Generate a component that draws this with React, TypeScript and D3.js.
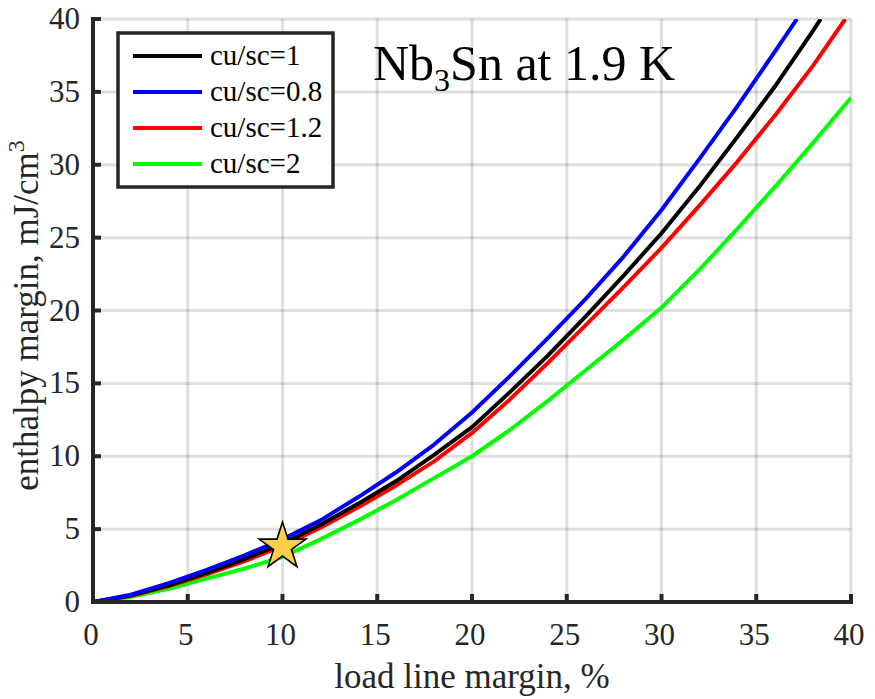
import React from "react";
import * as d3 from "d3";

// values
const xTicks = [0, 5, 10, 15, 20, 25, 30, 35, 40];
const yTicks = [0, 5, 10, 15, 20, 25, 30, 35, 40];

const xBlack = [0, 2, 4, 6, 8, 10, 12, 14, 16, 18, 20, 22, 24, 26, 28, 30, 32, 34, 36, 38, 38.4];
const yBlack = [0, 0.45, 1.15, 2.0, 2.95, 4.0, 5.3, 6.75, 8.3, 10.1, 12.0, 14.4, 16.9, 19.6, 22.4, 25.3, 28.5, 31.9, 35.4, 39.2, 40];

const xBlue = [0, 2, 4, 6, 8, 10, 12, 14, 16, 18, 20, 22, 24, 26, 28, 30, 32, 34, 36, 37.15];
const yBlue = [0, 0.5, 1.3, 2.2, 3.2, 4.3, 5.6, 7.2, 8.9, 10.8, 13.0, 15.5, 18.1, 20.8, 23.7, 26.9, 30.4, 34.0, 37.8, 40];

const xRed = [0, 2, 4, 6, 8, 10, 12, 14, 16, 18, 20, 22, 24, 26, 28, 30, 32, 34, 36, 38, 39.7];
const yRed = [0, 0.42, 1.1, 1.9, 2.8, 3.85, 5.1, 6.5, 8.0, 9.65, 11.6, 13.9, 16.4, 19.0, 21.6, 24.3, 27.2, 30.2, 33.4, 36.8, 40];

const xGreen = [0, 2, 4, 6, 8, 10, 12, 14, 16, 18, 20, 22, 24, 26, 28, 30, 32, 34, 36, 38, 40];
const yGreen = [0, 0.35, 0.9, 1.6, 2.3, 3.1, 4.3, 5.6, 7.0, 8.5, 10.0, 11.8, 13.8, 15.9, 18.0, 20.2, 22.8, 25.6, 28.5, 31.5, 34.6];

const seriesNames = ["cu/sc=1", "cu/sc=0.8", "cu/sc=1.2", "cu/sc=2"];
const seriesColors = ["#000000", "#0000ff", "#ff0000", "#00ff00"];

const starPoint = [10, 4];

export default function App() {
    const ref = React.useRef<SVGSVGElement>(null);

    React.useEffect(() => {
        document.body.style.margin = "0";
        const width = 875;
        const height = 699;
        const marginLeft = 93;
        const marginRight = 24;
        const marginTop = 19;
        const marginBottom = 97;
        const font = "'Liberation Serif', 'Times New Roman', serif";
        const axisColor = "#262626";

        const x = d3.scaleLinear().domain([0, 40]).range([marginLeft, width - marginRight]);
        const y = d3.scaleLinear().domain([0, 40]).range([height - marginBottom, marginTop]);

        const svg = d3
            .select(ref.current)
            .attr("width", width)
            .attr("height", height)
            .attr("viewBox", [0, 0, width, height])
            .style("display", "block")
            .style("background", "#fff");

        svg.append("defs")
            .append("clipPath")
            .attr("id", "plotClip")
            .append("rect")
            .attr("x", x(0))
            .attr("y", y(40))
            .attr("width", x(40) - x(0))
            .attr("height", y(0) - y(40));

        // grid
        const grid = svg.append("g").attr("stroke", axisColor).attr("stroke-opacity", 0.15).attr("stroke-width", 3);
        grid.selectAll("line.gx")
            .data(xTicks.slice(1))
            .join("line")
            .attr("x1", (d) => x(d))
            .attr("x2", (d) => x(d))
            .attr("y1", y(0))
            .attr("y2", y(40));
        grid.selectAll("line.gy")
            .data(yTicks.slice(1))
            .join("line")
            .attr("class", "gy")
            .attr("x1", x(0))
            .attr("x2", x(40))
            .attr("y1", (d) => y(d))
            .attr("y2", (d) => y(d));

        // curves
        const series = [
            { xs: xBlack, ys: yBlack },
            { xs: xBlue, ys: yBlue },
            { xs: xRed, ys: yRed },
            { xs: xGreen, ys: yGreen },
        ];
        const line = d3
            .line<[number, number]>()
            .x((d) => x(d[0]))
            .y((d) => y(d[1]));
        const curves = svg.append("g").attr("clip-path", "url(#plotClip)");
        // green first, blue last, like the overlap in the figure
        [3, 2, 0, 1].forEach((i) => {
            const pts = series[i].xs.map((v, j) => [v, series[i].ys[j]] as [number, number]);
            curves.append("path")
                .attr("d", line(pts))
                .attr("fill", "none")
                .attr("stroke", seriesColors[i])
                .attr("stroke-width", 4)
                .attr("stroke-linejoin", "round");
        });

        // star marker
        svg.append("path")
            .attr("d", d3.symbol().type(d3.symbolStar).size(680)())
            .attr("transform", `translate(${x(starPoint[0])},${y(starPoint[1]) + 3})`)
            .attr("fill", "#fdd04b")
            .attr("stroke", "#000")
            .attr("stroke-width", 1.6);

        // axes
        const axes = svg.append("g").attr("stroke", axisColor).attr("stroke-width", 4);
        axes.append("line")
            .attr("x1", x(0))
            .attr("x2", x(0))
            .attr("y1", y(40) - 2)
            .attr("y2", y(0) + 2);
        axes.append("line")
            .attr("x1", x(0) - 2)
            .attr("x2", x(40) + 2)
            .attr("y1", y(0))
            .attr("y2", y(0));
        axes.selectAll("line.tx")
            .data(xTicks)
            .join("line")
            .attr("class", "tx")
            .attr("x1", (d) => x(d))
            .attr("x2", (d) => x(d))
            .attr("y1", y(0))
            .attr("y2", y(0) - 8);
        axes.selectAll("line.ty")
            .data(yTicks)
            .join("line")
            .attr("class", "ty")
            .attr("x1", x(0))
            .attr("x2", x(0) + 8)
            .attr("y1", (d) => y(d))
            .attr("y2", (d) => y(d));

        // tick labels
        svg.append("g")
            .selectAll("text")
            .data(xTicks)
            .join("text")
            .attr("x", (d) => x(d) - 2)
            .attr("y", y(0) + 43)
            .attr("text-anchor", "middle")
            .attr("font-family", font)
            .attr("font-size", 31)
            .attr("fill", axisColor)
            .text((d) => d);
        svg.append("g")
            .selectAll("text")
            .data(yTicks)
            .join("text")
            .attr("x", x(0) - 13)
            .attr("y", (d) => y(d) + 10)
            .attr("text-anchor", "end")
            .attr("font-family", font)
            .attr("font-size", 31)
            .attr("fill", axisColor)
            .text((d) => d);

        // axis labels
        svg.append("text")
            .attr("x", (x(0) + x(40)) / 2)
            .attr("y", 688)
            .attr("text-anchor", "middle")
            .attr("font-family", font)
            .attr("font-size", 35)
            .attr("fill", axisColor)
            .text("load line margin, %");
        const yl = svg.append("text")
            .attr("transform", `translate(38,${(y(0) + y(40)) / 2 + 5}) rotate(-90)`)
            .attr("text-anchor", "middle")
            .attr("font-family", font)
            .attr("font-size", 35)
            .attr("fill", axisColor);
        yl.append("tspan").text("enthalpy margin, mJ/cm");
        yl.append("tspan").attr("font-size", 24).attr("dy", -14).text("3");

        // title
        const title = svg.append("text")
            .attr("x", 373)
            .attr("y", 80)
            .attr("font-family", font)
            .attr("font-size", 50)
            .attr("fill", "#000");
        title.append("tspan").text("Nb");
        title.append("tspan").attr("font-size", 32).attr("dy", 11).text("3");
        title.append("tspan").attr("dy", -11).text("Sn at 1.9 K");

        // legend
        const legend = svg.append("g");
        legend.append("rect")
            .attr("x", 118)
            .attr("y", 33)
            .attr("width", 215)
            .attr("height", 154)
            .attr("fill", "#fff")
            .attr("stroke", axisColor)
            .attr("stroke-width", 3.5);
        seriesNames.forEach((name, i) => {
            const ly = 56 + i * 36;
            legend.append("line")
                .attr("x1", 133)
                .attr("x2", 202)
                .attr("y1", ly)
                .attr("y2", ly)
                .attr("stroke", seriesColors[i])
                .attr("stroke-width", 4);
            legend.append("text")
                .attr("x", 210)
                .attr("y", ly + 9)
                .attr("font-family", font)
                .attr("font-size", 29)
                .attr("fill", "#000")
                .text(name);
        });

        return () => {
            svg.selectAll("*").remove();
        };
    }, []);

    return <svg ref={ref}></svg>;
}
